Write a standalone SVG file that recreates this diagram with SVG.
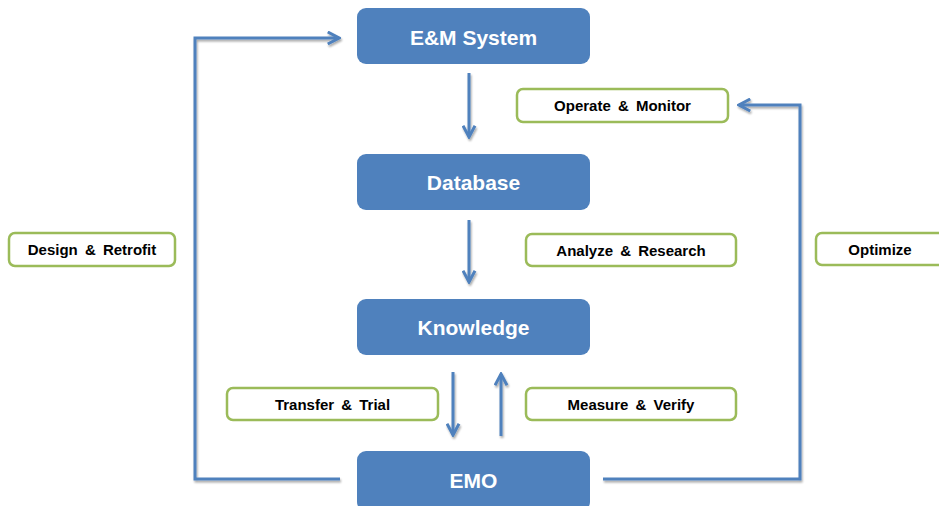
<svg xmlns="http://www.w3.org/2000/svg" width="939" height="506" viewBox="0 0 939 506">
<style>
.node{fill:#4F81BD;}
.ntext{fill:#FFFFFF;font-family:"Liberation Sans",Arial,sans-serif;font-weight:bold;font-size:21px;text-anchor:middle;dominant-baseline:central;}
.lbl{fill:#FFFFFF;stroke:#9BBB59;stroke-width:2.5;}
.ltext{fill:#000000;font-family:"Liberation Sans",Arial,sans-serif;font-weight:bold;font-size:15px;word-spacing:3px;text-anchor:middle;dominant-baseline:central;}
.conn{fill:none;stroke:#4F81BD;stroke-width:3;filter:url(#sh);}
</style>
<defs>
<filter id="sh" filterUnits="userSpaceOnUse" x="0" y="0" width="939" height="506">
<feGaussianBlur in="SourceAlpha" stdDeviation="1"/>
<feOffset dx="1" dy="1.5" result="b"/>
<feComponentTransfer><feFuncA type="linear" slope="0.35"/></feComponentTransfer>
<feMerge><feMergeNode/><feMergeNode in="SourceGraphic"/></feMerge>
</filter>
<marker id="arr" viewBox="0 0 10 10" refX="8.5" refY="5" markerWidth="5" markerHeight="5" orient="auto" markerUnits="strokeWidth">
<path d="M1,1 L8.5,5 L1,9" fill="none" stroke="#4F81BD" stroke-width="2"/>
</marker>
</defs>
<rect width="939" height="506" fill="#FFFFFF"/>
<g id="connectors">
<path class="conn" d="M469,73 V137" marker-end="url(#arr)"/>
<path class="conn" d="M469,220 V282" marker-end="url(#arr)"/>
<path class="conn" d="M453,372 V435" marker-end="url(#arr)"/>
<path class="conn" d="M501,436 V374" marker-end="url(#arr)"/>
<path class="conn" d="M340,479 H195 V38 H339" marker-end="url(#arr)"/>
<path class="conn" d="M603,479 H800 V105 H739" marker-end="url(#arr)"/>
</g>
<g id="node-em-system"><rect class="node" x="357" y="8" width="233" height="56" rx="9"/><text class="ntext" x="473.5" y="37">E&amp;M System</text></g>
<g id="node-database"><rect class="node" x="357" y="154" width="233" height="56" rx="9"/><text class="ntext" x="473.5" y="182">Database</text></g>
<g id="node-knowledge"><rect class="node" x="357" y="299" width="233" height="56" rx="9"/><text class="ntext" x="473.5" y="327">Knowledge</text></g>
<g id="node-emo"><rect class="node" x="357" y="451" width="233" height="60" rx="9"/><text class="ntext" x="473.5" y="480">EMO</text></g>
<g id="label-operate"><rect class="lbl" x="517" y="89" width="211" height="33" rx="6"/><text class="ltext" x="622.5" y="105.5">Operate &amp; Monitor</text></g>
<g id="label-design"><rect class="lbl" x="9" y="233" width="166" height="33" rx="6"/><text class="ltext" x="92" y="249.5">Design &amp; Retrofit</text></g>
<g id="label-analyze"><rect class="lbl" x="526" y="234" width="210" height="32" rx="6"/><text class="ltext" x="631" y="250">Analyze &amp; Research</text></g>
<g id="label-optimize"><rect class="lbl" x="816" y="233" width="140" height="32" rx="6"/><text class="ltext" x="880" y="249">Optimize</text></g>
<g id="label-transfer"><rect class="lbl" x="227" y="388" width="211" height="32" rx="6"/><text class="ltext" x="332.5" y="404">Transfer &amp; Trial</text></g>
<g id="label-measure"><rect class="lbl" x="526" y="388" width="210" height="32" rx="6"/><text class="ltext" x="631" y="404">Measure &amp; Verify</text></g>
</svg>
